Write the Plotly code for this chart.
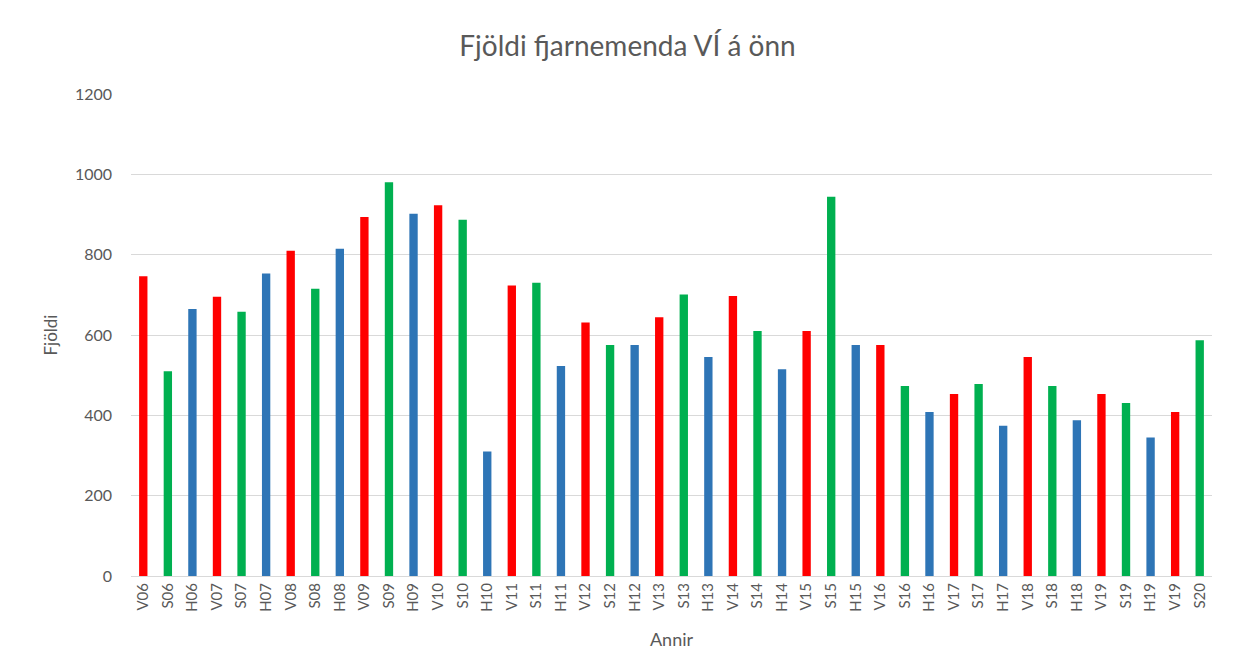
import plotly.graph_objects as go

labels = ["V06", "S06", "H06", "V07", "S07", "H07", "V08", "S08", "H08",
          "V09", "S09", "H09", "V10", "S10", "H10", "V11", "S11", "H11",
          "V12", "S12", "H12", "V13", "S13", "H13", "V14", "S14", "H14",
          "V15", "S15", "H15", "V16", "S16", "H16", "V17", "S17", "H17",
          "V18", "S18", "H18", "V19", "S19", "H19", "V19", "S20"]
values = [746, 510, 665, 695, 658, 753, 810, 715, 815,
          894, 980, 902, 923, 887, 310, 723, 730, 523,
          631, 575, 575, 644, 701, 545, 697, 610, 515,
          610, 944, 575, 575, 473, 408, 453, 478, 374,
          545, 473, 388, 453, 431, 345, 408, 587]
season_colors = {"V": "#FF0000", "S": "#00B050", "H": "#2E75B6"}
y_ticks = [0, 200, 400, 600, 800, 1000, 1200]

positions = list(range(len(labels)))
colors = [season_colors[l[0]] for l in labels]

fig = go.Figure()
fig.add_trace(go.Bar(
    x=positions, y=values, marker=dict(color=colors, line=dict(width=0)),
    width=0.34, showlegend=False,
))

grey = "#595959"
fig.update_layout(
    width=1239, height=664,
    paper_bgcolor="white", plot_bgcolor="white",
    margin=dict(l=123, r=35, t=86, b=96),
    font=dict(family="Lato", color=grey, size=15),
    title=dict(text="Fjöldi fjarnemenda VÍ á önn", x=0.5, xanchor="center",
               y=0.942, yanchor="middle", font=dict(size=28, color=grey)),
)
fig.update_xaxes(
    tickmode="array", tickvals=positions, ticktext=labels, tickangle=-90,
    range=[-0.5, len(labels) - 0.5], showgrid=False,
    showline=True, linecolor="#D9D9D9", linewidth=1, ticks="",
    title=dict(text="Annir", font=dict(size=18, color=grey), standoff=22),
    tickfont=dict(size=15, color=grey),
)
fig.update_yaxes(
    range=[0, 1200], tickvals=y_ticks, showgrid=True, gridcolor="#D9D9D9",
    gridwidth=1, zeroline=False, showline=False, ticks="",
    ticklabelstandoff=18,
    title=dict(text="Fjöldi", font=dict(size=17, color=grey), standoff=12),
    tickfont=dict(size=16, color=grey),
)
fig.write_html("out.html")
